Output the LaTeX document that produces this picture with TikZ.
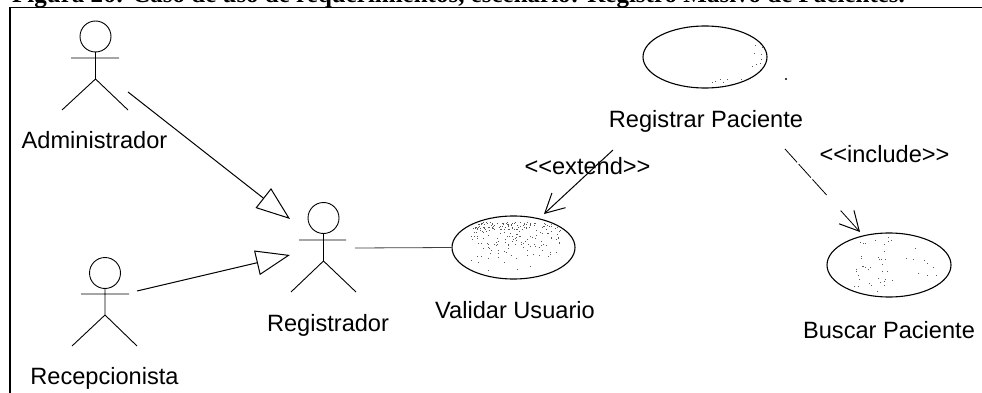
\documentclass[tikz,border=0pt]{standalone}
\usepackage{fontspec}
\setmainfont{Liberation Sans}
\newfontfamily\titlefont{Liberation Serif}
\usetikzlibrary{arrows.meta,shapes.geometric}
\tikzset{
  lbl/.style={font=\fontsize{23.6}{26}\selectfont,inner sep=0pt,text=black,anchor=base},
  usecase/.style={draw=black,ellipse,line width=1.1pt,inner sep=0pt},
  limb/.style={line width=0.9pt,draw=black},
  open/.style={-{Triangle[open,length=34pt,width=25pt,line width=1pt]},line width=1pt},
  vee/.style={-{Straight Barb[length=19pt,width=20pt,line width=1pt]},line width=1pt},
  speck/.style={fill=black!65}
}
\begin{document}
\begin{tikzpicture}[x=1pt,y=-1pt]
\useasboundingbox (0,0) rectangle (982,393);
\fill[white] (0,0) rectangle (982,393);
\begin{scope}
\clip (0,0) rectangle (982,393);
\node[anchor=base west,inner sep=0pt,font=\titlefont\bfseries\fontsize{25}{28}\selectfont] (title) at (12,3) {Figura 26: Caso de uso de requerimientos, escenario: Registro Masivo de Pacientes.};
\end{scope}
\draw[line width=1.2pt] (10,393) -- (10,7.5) -- (982,7.5);
% actors
\draw[limb] (95.5,36.5) ellipse (15.5 and 15.5);
\draw[limb] (95.5,52) -- (95.5,79) (71,58) -- (119,58) (95.5,79) -- (62,110) (95.5,79) -- (128,110);
\draw[limb] (105,273) ellipse (15.5 and 15.5);
\draw[limb] (105,288.5) -- (105,315) (81,294) -- (129,294) (105,315) -- (72,346) (105,315) -- (137,346);
\draw[limb] (323.5,218) ellipse (15.5 and 15.5);
\draw[limb] (323.5,233.5) -- (323.5,261) (299,240) -- (346,240) (323.5,261) -- (291,292) (323.5,261) -- (356,292);
\coordinate (admOut) at (128,92);
\coordinate (recOut) at (137,291);
\coordinate (regIn1) at (290,219);
\coordinate (regIn2) at (290,255);
\coordinate (regOut) at (355,248);
% labels
\node[lbl] (adm) at (94.5,149) {Administrador};
\node[lbl] (rec) at (104.5,384) {Recepcionista};
\node[lbl] (reg) at (328,331) {Registrador};
% use cases
\node[usecase,minimum width=124pt,minimum height=62pt] (uc1) at (705,57) {};
\node[usecase,minimum width=123pt,minimum height=63pt] (uc2) at (513.5,247.5) {};
\node[usecase,minimum width=124pt,minimum height=64pt] (uc3) at (889,265) {};
% scan specks
\pgfmathsetseed{42}
\begin{scope}
\clip (513.5,247.5) ellipse (60 and 30);
\foreach \i in {1,...,230}{
  \pgfmathsetmacro{\px}{470+rnd*90}
  \pgfmathsetmacro{\py}{222+rnd*rnd*50}
  \fill[speck] (\px,\py) rectangle ++(1,1);
}
\end{scope}
\begin{scope}
\clip (889,265) ellipse (60 and 31);
\foreach \i in {1,...,40}{
  \pgfmathsetmacro{\px}{852+rnd*40}
  \pgfmathsetmacro{\py}{236+rnd*58}
  \fill[speck] (\px,\py) rectangle ++(1,1);
}
\foreach \i in {1,...,10}{
  \pgfmathsetmacro{\px}{905+rnd*40}
  \pgfmathsetmacro{\py}{240+rnd*50}
  \fill[speck] (\px,\py) rectangle ++(1,1);
}
\end{scope}
\foreach \px/\py in {755/45,762/47,761/54,754/53,761/59,760/63,756/64,752/66,720/79,727/79,723/82,715/81,741/79,712/82}{
  \fill[speck] (\px,\py) rectangle ++(1,1);
}
\node[lbl] (uc1l) at (706,128) {Registrar Paciente};
\node[lbl] (uc2l) at (515,318) {Validar Usuario};
\node[lbl] (uc3l) at (889,338) {Buscar Paciente};
\node[lbl] (ext) at (587.5,174) {<\kern0pt<extend>\kern0pt>};
\node[lbl] (inc) at (884.5,162) {<\kern0pt<include>\kern0pt>};
\coordinate (dot) at (786,79);
\fill (dot) circle (1.2pt);
% connectors
\coordinate (e1) at (613,150);
\coordinate (e2) at (544,214);
\coordinate (i1) at (785,149);
\coordinate (i2) at (860,232);
\draw[open] (admOut) -- (regIn1);
\draw[open] (recOut) -- (regIn2);
\draw[line width=0.8pt,black!75] (regOut) -- (uc2.west);
\draw[vee] (e1) -- (e2);
\draw[vee,line width=0.8pt,dash pattern=on 18pt off 2.5pt on 18pt off 2.5pt on 21pt off 21pt on 40pt] (i1) -- (i2);
\end{tikzpicture}
\end{document}
